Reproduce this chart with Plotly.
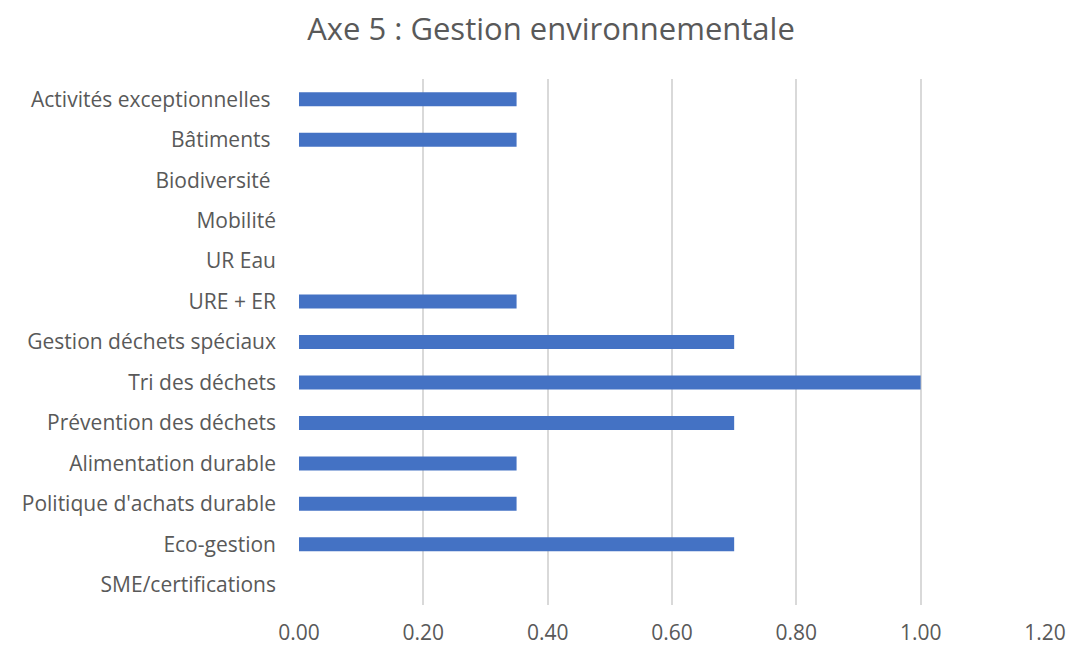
import plotly.graph_objects as go

# categories listed bottom -> top as plotted
categories = [
    "SME/certifications",
    "Eco-gestion",
    "Politique d'achats durable",
    "Alimentation durable",
    "Prévention des déchets",
    "Tri des déchets",
    "Gestion déchets spéciaux",
    "URE + ER",
    "UR Eau",
    "Mobilité",
    "Biodiversité ",
    "Bâtiments ",
    "Activités exceptionnelles ",
]
scores = [0, 0.7, 0.35, 0.35, 0.7, 1.0, 0.7, 0.35, 0, 0, 0, 0.35, 0.35]
x_ticks = [0, 0.2, 0.4, 0.6, 0.8, 1.0, 1.2]

FONT = "Open Sans"
TEXT = "#595959"

# keep trailing spaces visible in svg labels
tick_text = [c.rstrip() + "\u00a0" * (len(c) - len(c.rstrip())) for c in categories]

# page body has an 8px default margin, so the figure is 8px smaller
W, H = 1074, 639

fig = go.Figure()
fig.add_trace(
    go.Bar(
        x=scores,
        y=categories,
        orientation="h",
        marker=dict(color="#4472C4", line=dict(width=0)),
        hoverinfo="x+y",
    )
)

fig.update_layout(
    title=dict(
        text="Axe 5 : Gestion environnementale",
        x=0.5056,
        xanchor="center",
        y=1 - 21 / H,
        yanchor="middle",
        font=dict(family=FONT, size=31, color=TEXT),
    ),
    width=W,
    height=H,
    margin=dict(l=291, r=37, t=71, b=42),
    paper_bgcolor="white",
    plot_bgcolor="white",
    bargap=0.654,
    showlegend=False,
    font=dict(family=FONT, size=21, color=TEXT),
)

fig.update_xaxes(
    range=[0, 1.2],
    tickvals=x_ticks,
    tickformat=".2f",
    showgrid=True,
    gridcolor="#D9D9D9",
    gridwidth=1.5,
    zeroline=False,
    showline=False,
    ticks="",
    automargin=False,
    ticklabelstandoff=13,
    tickfont=dict(family=FONT, size=21, color=TEXT),
)

fig.update_yaxes(
    categoryorder="array",
    categoryarray=categories,
    tickvals=categories,
    ticktext=tick_text,
    showgrid=False,
    zeroline=False,
    showline=False,
    ticks="",
    automargin=False,
    ticklabelstandoff=22,
    tickfont=dict(family=FONT, size=21, color=TEXT),
)

fig.write_html("out.html")
